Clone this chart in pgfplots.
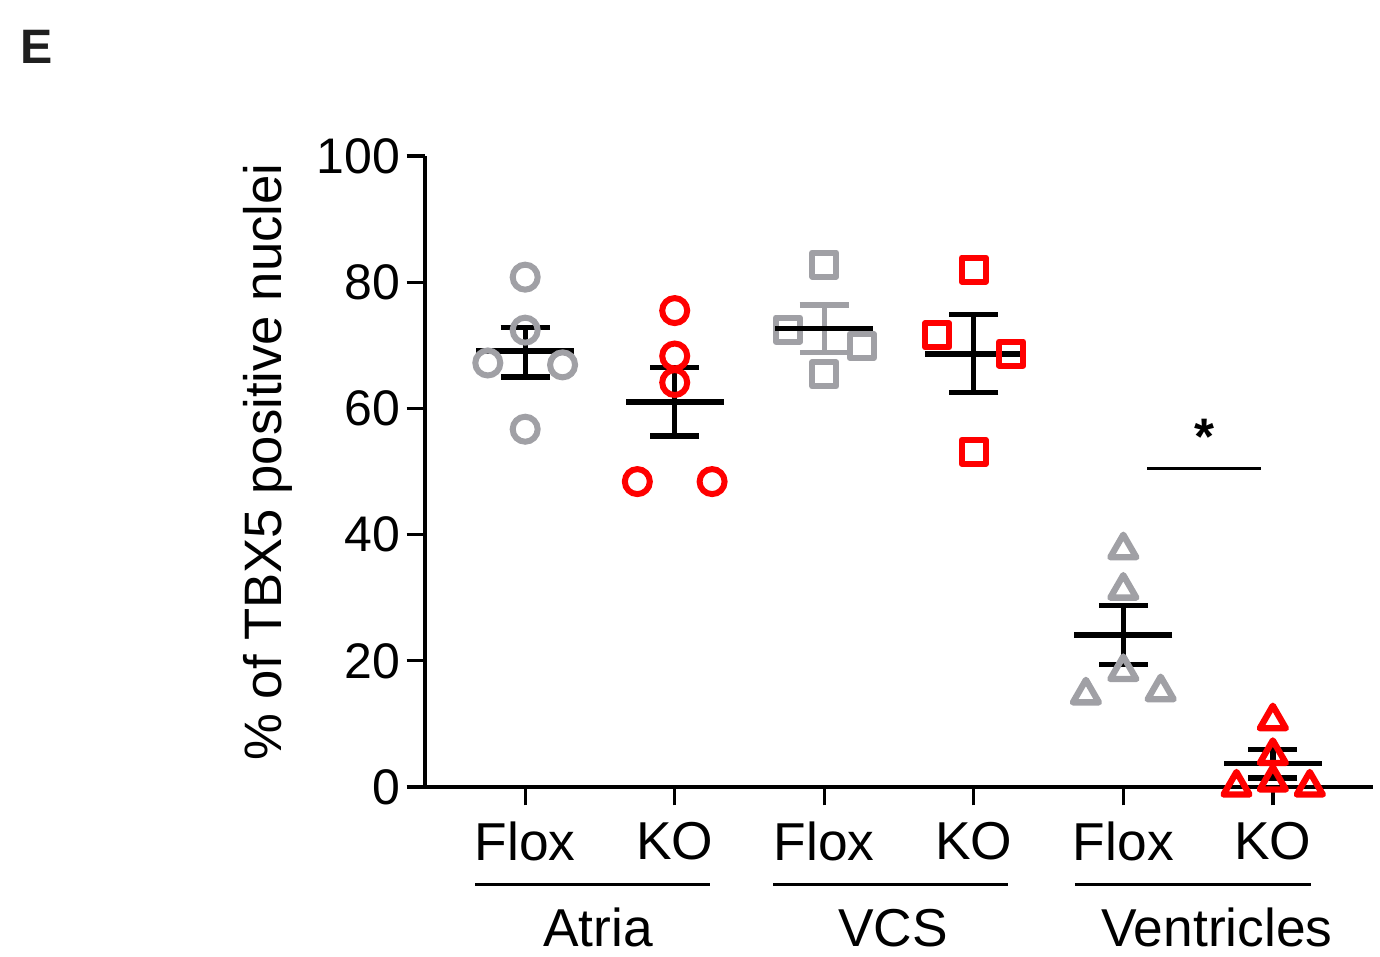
\documentclass[border=0pt]{standalone}
\usepackage{pgfplots}
\pgfplotsset{compat=1.18}
\usepackage{fontspec}
\setmainfont{Liberation Sans}
\newcommand{\fs}{\fontsize{15.4}{18.5}\selectfont}
\newcommand{\fx}{\fontsize{16}{19}\selectfont}
\definecolor{floxgray}{RGB}{160,160,165}
\definecolor{kored}{RGB}{255,0,0}
\begin{document}
\begin{tikzpicture}
\useasboundingbox (0,0) rectangle (414pt,286.8pt);
\node[font=\fontsize{14.5}{16}\selectfont\bfseries, text=black!88] at (11.1pt,272.7pt) {E};
\begin{axis}[
  at={(127.5pt,50.7pt)}, anchor=south west,
  scale only axis, width=284.4pt, height=189.3pt,
  xmin=0.33, xmax=6.67, ymin=0, ymax=100,
  axis lines=left, axis line style={-, line width=1pt},
  clip=false,
  xtick={1,...,6}, xticklabels={Flox,KO,Flox,KO,Flox,KO},
  ytick={0,20,...,100},
  tick align=outside, major tick length=5.5pt,
  tick style={black, line width=1pt},
  yticklabel style={font=\fontsize{15}{18}\selectfont, xshift=1.5pt},
  xticklabel style={font=\fx, yshift=-1.5pt},
  /pgf/number format/assume math mode=true,
  ylabel={\% of TBX5 positive nuclei},
  ylabel style={font=\fontsize{15.8}{19}\selectfont, at={(axis description cs:-0.1656,0.515)}, anchor=center},
]
% mean and SEM
\addplot[black, only marks, mark=-, mark size=14.7pt, mark options={line width=1.6pt},
  error bars/.cd, y dir=both, y explicit,
  error bar style={line width=1.6pt, black},
  error mark options={rotate=90, mark size=7.35pt, line width=1.6pt}]
coordinates {
(1,69.1) += (0,3.7) -= (0,4.1)
(2,61.0) += (0,5.5) -= (0,5.4)
(4,68.6) += (0,6.3) -= (0,6.1)
(5,24.1) += (0,4.7) -= (0,4.7)
(6,3.75) += (0,2.2) -= (0,2.3)
};
\addplot[black, only marks, mark=-, mark size=14.7pt, mark options={line width=1.6pt},
  error bars/.cd, y dir=both, y explicit,
  error bar style={line width=1.6pt, floxgray},
  error mark options={rotate=90, mark size=7.35pt, line width=1.6pt, floxgray}]
coordinates {(3,72.7) += (0,3.7) -= (0,3.8)};
% Atria
\addplot[floxgray, only marks, mark=o, mark size=3.75pt, mark options={line width=1.8pt}]
coordinates {(1,80.8)(1,72.4)(0.75,67.2)(1.25,66.9)(1,56.7)};
\addplot[kored, only marks, mark=o, mark size=3.75pt, mark options={line width=1.8pt}]
coordinates {(2,75.5)(2,68.3)(2,64.1)(1.75,48.4)(2.25,48.4)};
% VCS
\addplot[floxgray, only marks, mark=square, mark size=3.6pt, mark options={line width=1.8pt, line join=round}]
coordinates {(3,82.8)(2.757,72.5)(3.25,69.9)(3,65.4)};
\addplot[kored, only marks, mark=square, mark size=3.6pt, mark options={line width=1.8pt, line join=round}]
coordinates {(4,82.0)(3.755,71.6)(4.25,68.7)(4,53.1)};
\addplot[black, only marks, mark=-, mark size=14.7pt, mark options={line width=1.6pt}]
coordinates {(3,72.7)};
% Ventricles
\addplot[floxgray, only marks, mark=triangle, mark size=4.5pt, mark options={line width=1.9pt, line join=round}]
coordinates {(5,37.6)(5,31.2)(5,18.3)(4.75,14.6)(5.25,15.1)};
\addplot[kored, only marks, mark=triangle, mark size=4.5pt, mark options={line width=1.9pt, line join=round}]
coordinates {(6,10.5)(6,5.0)(6,0.8)(5.757,0)(6.247,0)};
% group brackets
\draw[line width=1pt] (axis cs:0.666,-15.4) -- (axis cs:2.237,-15.4);
\draw[line width=1pt] (axis cs:2.658,-15.4) -- (axis cs:4.229,-15.4);
\draw[line width=1pt] (axis cs:4.676,-15.4) -- (axis cs:6.254,-15.4);
\node[font=\fx] at (axis cs:1.488,-22.3) {Atria};
\node[font=\fx] at (axis cs:3.46,-22.3) {VCS};
\node[font=\fx] at (axis cs:5.626,-22.3) {Ventricles};
% significance
\draw[line width=0.7pt] (axis cs:5.16,50.5) -- (axis cs:5.92,50.5);
\node[font=\fs\bfseries] at (axis cs:5.54,55.5) {*};
\end{axis}
\end{tikzpicture}
\end{document}
